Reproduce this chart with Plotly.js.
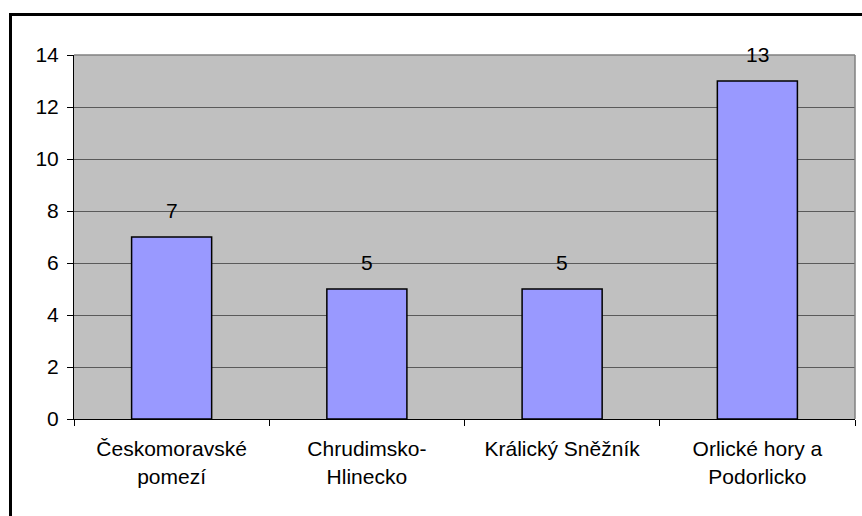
<!DOCTYPE html>
<html>
<head>
<meta charset="utf-8">
<script src="https://cdn.plot.ly/plotly-3.0.1.min.js"></script>
<style>
html,body{margin:0;padding:0;background:#fff;overflow:hidden;}
#wrap{position:relative;width:862px;height:516px;overflow:hidden;}
#chart{position:absolute;left:0;top:0;width:862px;height:516px;}
#frame{position:absolute;left:9px;top:13px;width:900px;height:600px;border:3px solid #000;pointer-events:none;}
</style>
</head>
<body>
<div id="wrap">
<div id="chart"></div>
<div id="frame"></div>
</div>
<script>
const categories = ["Českomoravské<br>pomezí", "Chrudimsko-<br>Hlinecko", "Králický Sněžník", "Orlické hory a<br>Podorlicko"];
const values = [7, 5, 5, 13];
const yTicks = [0, 2, 4, 6, 8, 10, 12, 14];

const FONT = "Liberation Sans, Arial, sans-serif";
const FS = 21;

const trace = {
  type: "bar",
  x: categories,
  y: values,
  marker: {color: "#9999FF", line: {color: "#000000", width: 1.5}},
  hoverinfo: "skip"
};

const annotations = categories.map((c, i) => ({
  x: c, y: values[i], xref: "x", yref: "y",
  text: String(values[i]), showarrow: false,
  yanchor: "middle", yshift: 27,
  font: {family: FONT, size: FS, color: "#000"}
}));

const layout = {
  width: 862, height: 516,
  margin: {l: 74, r: 7, t: 55, b: 97},
  paper_bgcolor: "#ffffff",
  plot_bgcolor: "#C0C0C0",
  bargap: 0.59,
  showlegend: false,
  font: {family: FONT, size: FS, color: "#000"},
  xaxis: {
    type: "category",
    showgrid: false,
    showline: true, linecolor: "#000", linewidth: 1,
    ticks: "outside", tickson: "boundaries", ticklen: 6, tickcolor: "#000", tickwidth: 1,
    ticklabelstandoff: 11,
    tickfont: {family: FONT, size: FS, color: "#000"},
    fixedrange: true
  },
  yaxis: {
    range: [0, 14],
    tickvals: yTicks,
    ticktext: yTicks.map(String),
    showgrid: true, gridcolor: "#5a5a5a", gridwidth: 1,
    zeroline: false,
    showline: true, linecolor: "#000", linewidth: 1,
    ticks: "outside", ticklen: 6, tickcolor: "#000", tickwidth: 1,
    ticklabelstandoff: 4,
    tickfont: {family: FONT, size: FS, color: "#000"},
    fixedrange: true
  },
  shapes: [
    {type: "line", xref: "paper", yref: "paper", x0: 0, x1: 1, y0: 1, y1: 1, line: {color: "#808080", width: 1.5}},
    {type: "line", xref: "paper", yref: "paper", x0: 1, x1: 1, y0: 0, y1: 1, line: {color: "#808080", width: 1.5}}
  ],
  annotations: annotations
};

Plotly.newPlot("chart", [trace], layout, {displayModeBar: false, staticPlot: true});
</script>
</body>
</html>
